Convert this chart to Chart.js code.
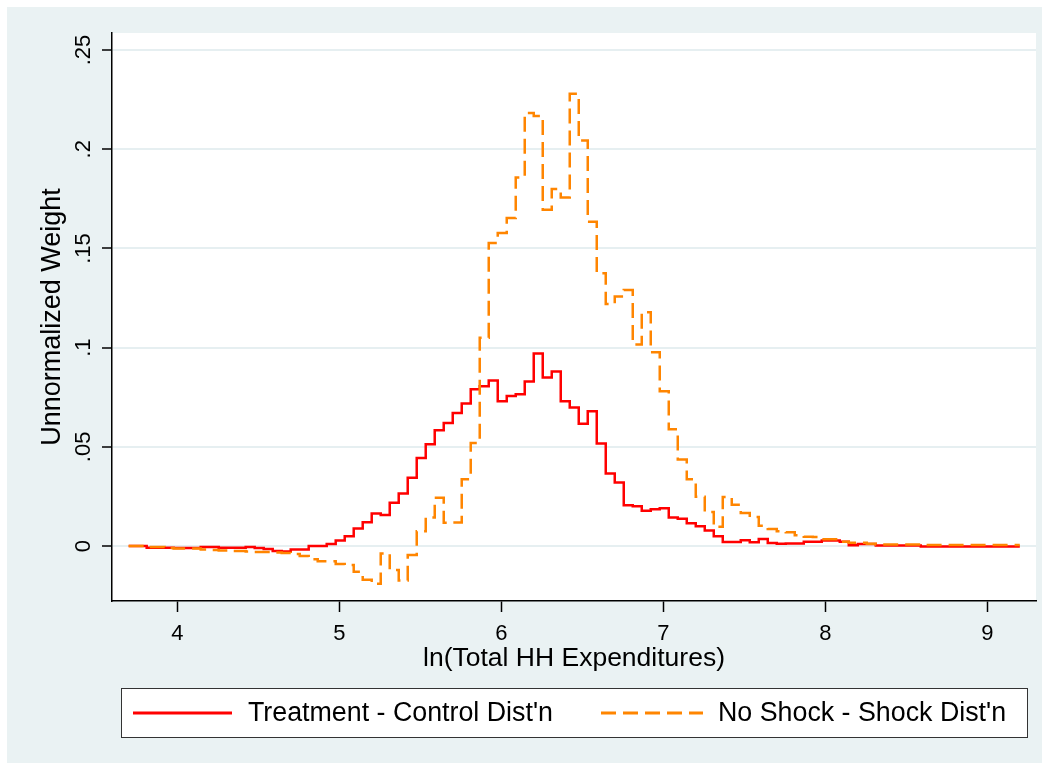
<!DOCTYPE html>
<html>
<head>
<meta charset="utf-8">
<script src="https://cdn.jsdelivr.net/npm/chart.js@4.4.1/dist/chart.umd.min.js"></script>
<style>
  html, body { margin: 0; padding: 0; background: #fff; }
  #wrap { width: 1049px; height: 770px; }
</style>
</head>
<body>
<div id="wrap"><canvas id="chart" width="1049" height="770"></canvas></div>
<script>
// --- data ---
const binStart = 3.7;
const binEnd = 9.2;
const treatControl = [
  0, 0, -0.0008, -0.0008, -0.0008, -0.001, -0.001, -0.001, -0.0005, -0.0005,
  -0.0008, -0.0008, -0.0008, -0.0005, -0.001, -0.0015, -0.0025, -0.0028, -0.0018, -0.0018,
  0, 0, 0.001, 0.0028, 0.005, 0.0089, 0.012, 0.0164, 0.0156, 0.0218,
  0.0265, 0.0344, 0.0444, 0.0513, 0.0584, 0.062, 0.067, 0.0718, 0.079, 0.0805,
  0.0835, 0.073, 0.0756, 0.0765, 0.083, 0.097, 0.085, 0.088, 0.073, 0.0698,
  0.0617, 0.068, 0.0517, 0.0366, 0.032, 0.0205, 0.0201, 0.0178, 0.0186, 0.0191,
  0.0144, 0.0137, 0.0115, 0.01, 0.0078, 0.005, 0.002, 0.002, 0.0029, 0.0019,
  0.0036, 0.0015, 0.0012, 0.0013, 0.0013, 0.0022, 0.0022, 0.0028, 0.0028, 0.0022,
  0.0004, 0.001, 0.001, 0.0003, 0.0003, 0.0003, 0.0003, 0.0003, -0.0002, -0.0002,
  -0.0002, -0.0002, -0.0002, -0.0002, -0.0002, -0.0002, -0.0002, -0.0002, -0.0002
];
const noShockShock = [
  0, 0, -0.0005, -0.0005, -0.001, -0.0012, -0.0013, -0.0013, -0.0018, -0.002,
  -0.0022, -0.0025, -0.0025, -0.0028, -0.003, -0.003, -0.0032, -0.0035, -0.004, -0.005,
  -0.0067, -0.0077, -0.0077, -0.009, -0.0096, -0.013, -0.017, -0.019, -0.0037, -0.0121,
  -0.0174, -0.0045, 0.0075, 0.0144, 0.0243, 0.0117, 0.0119, 0.0337, 0.052, 0.105,
  0.1528, 0.1578, 0.1653, 0.1858, 0.2183, 0.2168, 0.1695, 0.18, 0.1757, 0.228,
  0.2044, 0.1635, 0.1375, 0.122, 0.1258, 0.129, 0.1016, 0.1179, 0.0977, 0.078,
  0.0589, 0.0436, 0.0337, 0.0248, 0.0172, 0.0097, 0.0247, 0.0208, 0.0166, 0.0146,
  0.0102, 0.0086, 0.0075, 0.0069, 0.0055, 0.0047, 0.0045, 0.0034, 0.0034, 0.0022,
  0.0017, 0.0017, 0.0012, 0.0008, 0.0008, 0.0008, 0.0008, 0.0008, 0.0005, 0.0005,
  0.0005, 0.0005, 0.0005, 0.0005, 0.0005, 0.0005, 0.0005, 0.0005, 0.0005
];
const xTicks = [4, 5, 6, 7, 8, 9];
const yTicks = [0, 0.05, 0.1, 0.15, 0.2, 0.25];
const yTickLabels = ['0', '.05', '.1', '.15', '.2', '.25'];
const seriesNames = ["Treatment - Control Dist'n", "No Shock - Shock Dist'n"];

// --- style ---
const BG = '#EAF2F3';
const RED = '#FF0000';
const ORANGE = '#FF8500';
const FONT = '"Liberation Sans", Arial, sans-serif';
const DASH = [15, 7];

// step points: left edge of each bin, plus closing point at the right end
function toSteps(vals) {
  const w = (binEnd - binStart) / vals.length;
  const pts = vals.map((v, i) => ({ x: binStart + i * w, y: v }));
  pts.push({ x: binEnd, y: vals[vals.length - 1] });
  return pts;
}

const decor = {
  id: 'decor',
  beforeDraw(chart) {
    const ctx = chart.ctx, a = chart.chartArea;
    ctx.save();
    ctx.fillStyle = '#fff';
    ctx.fillRect(0, 0, chart.width, chart.height);
    ctx.fillStyle = BG;
    ctx.fillRect(7, 7, 1035, 756);
    ctx.fillStyle = '#fff';
    ctx.fillRect(a.left, a.top, a.right - a.left, a.bottom - a.top);
    ctx.restore();
  },
  afterDraw(chart) {
    const ctx = chart.ctx, a = chart.chartArea;
    const xs = chart.scales.x, ys = chart.scales.y;
    ctx.save();
    ctx.fillStyle = '#000';
    ctx.textAlign = 'center';
    ctx.textBaseline = 'middle';

    // y tick labels (rotated)
    ctx.font = '22px ' + FONT;
    yTicks.forEach((v, i) => {
      ctx.save();
      ctx.translate(84, ys.getPixelForValue(v));
      ctx.rotate(-Math.PI / 2);
      ctx.fillText(yTickLabels[i], 0, 0);
      ctx.restore();
    });
    // x tick labels
    xTicks.forEach(v => ctx.fillText(String(v), xs.getPixelForValue(v), 634));

    // axis titles
    ctx.font = '26.5px ' + FONT;
    ctx.fillText('ln(Total HH Expenditures)', (a.left + a.right) / 2, 659);
    ctx.font = '27px ' + FONT;
    ctx.save();
    ctx.translate(53, (a.top + a.bottom) / 2);
    ctx.rotate(-Math.PI / 2);
    ctx.fillText('Unnormalized Weight', 0, 0);
    ctx.restore();

    // legend
    ctx.fillStyle = '#fff';
    ctx.fillRect(121, 688, 906, 49);
    ctx.strokeStyle = '#333';
    ctx.lineWidth = 1;
    ctx.strokeRect(121.5, 688.5, 906, 49);
    const ly = 713;
    ctx.lineWidth = 3;
    ctx.strokeStyle = RED;
    ctx.beginPath(); ctx.moveTo(133, ly); ctx.lineTo(232, ly); ctx.stroke();
    ctx.strokeStyle = ORANGE;
    ctx.setLineDash(DASH);
    ctx.beginPath(); ctx.moveTo(601, ly); ctx.lineTo(703, ly); ctx.stroke();
    ctx.setLineDash([]);
    ctx.fillStyle = '#000';
    ctx.textAlign = 'left';
    ctx.font = '26.8px ' + FONT;
    ctx.fillText(seriesNames[0], 248, ly + 1);
    ctx.fillText(seriesNames[1], 718, ly + 1);
    ctx.restore();
  }
};

new Chart(document.getElementById('chart'), {
  type: 'line',
  data: {
    datasets: [
      {
        label: seriesNames[1], data: toSteps(noShockShock),
        borderColor: ORANGE, borderWidth: 2.5, borderDash: DASH,
        stepped: true, pointRadius: 0, fill: false, order: 0
      },
      {
        label: seriesNames[0], data: toSteps(treatControl),
        borderColor: RED, borderWidth: 2.5,
        stepped: true, pointRadius: 0, fill: false, order: 1
      }
    ]
  },
  options: {
    responsive: false,
    devicePixelRatio: 1,
    animation: false,
    layout: { padding: { left: 0, top: 33, right: 13, bottom: 0 } },
    plugins: { legend: { display: false }, tooltip: { enabled: false } },
    scales: {
      x: {
        type: 'linear', min: 3.597, max: 9.30,
        afterBuildTicks: s => { s.ticks = xTicks.map(v => ({ value: v })); },
        afterFit: s => { s.height = 169; },
        ticks: { display: false },
        grid: { drawOnChartArea: false, drawTicks: true, tickLength: 11, tickColor: '#000', tickWidth: 1.5 },
        border: { display: true, color: '#000', width: 1.5 }
      },
      y: {
        type: 'linear', min: -0.0277, max: 0.2586,
        afterBuildTicks: s => { s.ticks = yTicks.map(v => ({ value: v })); },
        afterFit: s => { s.width = 112; },
        ticks: { display: false },
        grid: { color: '#E6EFF1', lineWidth: 2, drawTicks: true, tickLength: 10, tickColor: '#000', tickWidth: 1.5 },
        border: { display: true, color: '#000', width: 1.5 }
      }
    }
  },
  plugins: [decor]
});
</script>
</body>
</html>
